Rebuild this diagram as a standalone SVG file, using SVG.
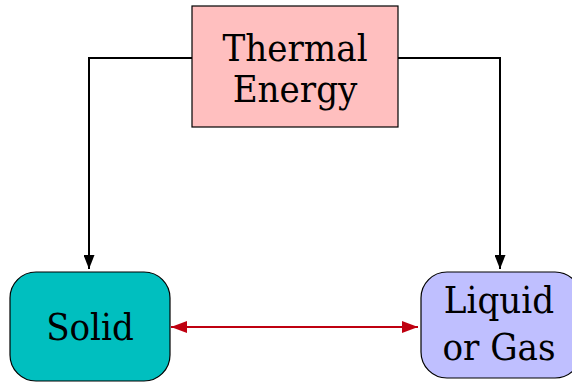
<svg xmlns="http://www.w3.org/2000/svg" width="572" height="382" viewBox="0 0 572 382">
<defs>
<style>
.node{stroke:#000;stroke-width:1.2}
.blk{fill:none;stroke:#000;stroke-width:2}
.red{fill:none;stroke:#BF0010;stroke-width:2.2}
.t{font-family:"DejaVu Serif Condensed","DejaVu Serif",serif;font-size:38px;text-anchor:middle;fill:#000}
</style>
<marker id="ab" viewBox="0 0 14 11" refX="14" refY="5.5" markerWidth="14" markerHeight="11" markerUnits="userSpaceOnUse" orient="auto"><path d="M0,0 L14,5.5 L0,11 z" fill="#000"/></marker>
<marker id="ar" viewBox="0 0 16 12" refX="16" refY="6" markerWidth="16" markerHeight="12" markerUnits="userSpaceOnUse" orient="auto-start-reverse"><path d="M0,0 L16,6 L0,12 z" fill="#BF0010"/></marker>
</defs>
<g id="connectors">
<path class="blk" d="M192,58 H89 V269" marker-end="url(#ab)"/>
<path class="blk" d="M398,58 H500 V269" marker-end="url(#ab)"/>
<path class="red" d="M171,327 H418" marker-start="url(#ar)" marker-end="url(#ar)"/>
</g>
<g id="thermal">
<rect class="node" x="192" y="6" width="206" height="121" fill="#FFBFBF"/>
<text class="t" x="295" y="61">Thermal</text>
<text class="t" x="295" y="102">Energy</text>
</g>
<g id="solid">
<rect class="node" x="10" y="272" width="160" height="109" rx="26" fill="#00BFBF"/>
<text class="t" x="90" y="340">Solid</text>
</g>
<g id="liquid">
<rect class="node" x="421" y="272" width="160" height="106" rx="26" fill="#BFBFFF"/>
<text class="t" x="499" y="313">Liquid</text>
<text class="t" x="499" y="360">or Gas</text>
</g>
</svg>
